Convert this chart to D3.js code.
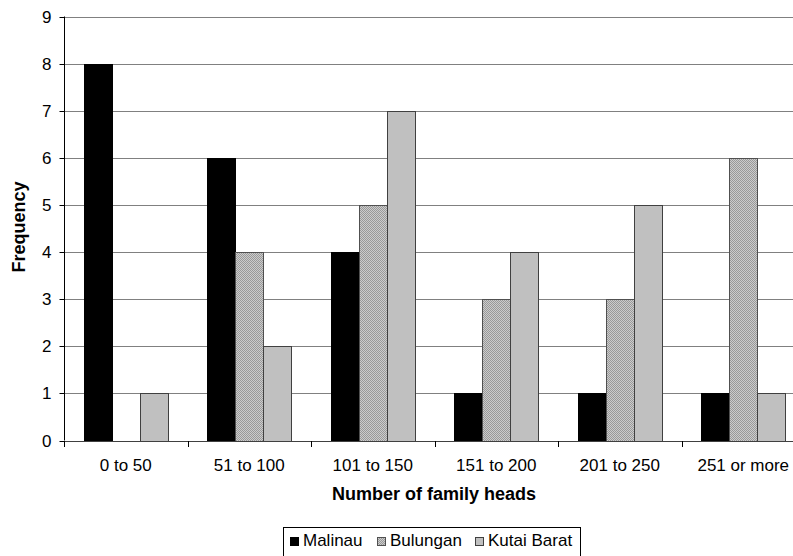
<!DOCTYPE html>
<html>
<head>
<meta charset="utf-8">
<script src="https://cdn.jsdelivr.net/npm/d3@7"></script>
<style>
  html, body { margin: 0; padding: 0; background: #fff; }
  svg { display: block; font-family: "Liberation Sans", Arial, sans-serif; }
</style>
</head>
<body>
<svg id="chart" width="793" height="556"></svg>
<script>
// Frequency of villages by number of family heads, per district
const categories = ["0 to 50", "51 to 100", "101 to 150", "151 to 200", "201 to 250", "251 or more"];
const seriesNames = ["Malinau", "Bulungan", "Kutai Barat"];
const malinau    = [8, 6, 4, 1, 1, 1];
const bulungan   = [0, 4, 5, 3, 3, 6];
const kutaiBarat = [1, 2, 7, 4, 5, 1];
const yTicks = [0, 1, 2, 3, 4, 5, 6, 7, 8, 9];

const seriesValues = [malinau, bulungan, kutaiBarat];

const svg = d3.select("#chart");
const defs = svg.append("defs");

// fine dotted fill for the second series
const pat = defs.append("pattern")
  .attr("id", "dots")
  .attr("patternUnits", "userSpaceOnUse")
  .attr("width", 2).attr("height", 2)
  .attr("shape-rendering", "crispEdges");
pat.append("rect").attr("width", 2).attr("height", 2).attr("fill", "#cccccc");
pat.append("rect").attr("width", 1).attr("height", 1).attr("fill", "#999999");
pat.append("rect").attr("x", 1).attr("y", 1).attr("width", 1).attr("height", 1).attr("fill", "#999999");

const fills = ["#000000", "url(#dots)", "#c0c0c0"];
const strokes = ["#000000", "#505050", "#404040"];

const plotLeft = 64, plotTop = 16.5, plotBottom = 440.5, band = 123.5;
const x = d3.scaleBand().domain(categories).range([plotLeft, plotLeft + band * categories.length]).padding(0);
const xInner = d3.scaleBand().domain(seriesNames).range([19.5, 104]).padding(0);
const y = d3.scaleLinear().domain([0, 9]).range([plotBottom, plotTop]);
const snap = v => Math.round(v) + 0.5;

// horizontal gridlines
svg.append("g")
  .selectAll("line")
  .data(yTicks.filter(d => d > 0))
  .join("line")
  .attr("x1", plotLeft).attr("x2", 793)
  .attr("y1", d => snap(y(d))).attr("y2", d => snap(y(d)))
  .attr("stroke", "#808080").attr("stroke-width", 1);

// bars
const barData = [];
categories.forEach((c, i) => {
  seriesNames.forEach((s, k) => {
    const v = seriesValues[k][i];
    if (v > 0) barData.push({ c, s, k, v });
  });
});

svg.append("g")
  .selectAll("rect")
  .data(barData)
  .join("rect")
  .attr("x", d => snap(x(d.c) + xInner(d.s)))
  .attr("y", d => snap(y(d.v)))
  .attr("width", Math.round(xInner.bandwidth()))
  .attr("height", d => snap(y(0)) - snap(y(d.v)))
  .attr("fill", d => fills[d.k])
  .attr("stroke", d => strokes[d.k])
  .attr("stroke-width", 1);

// y axis
const yAxis = svg.append("g")
  .attr("transform", `translate(${plotLeft + 0.5},0)`)
  .call(d3.axisLeft(y).tickValues(yTicks).tickSize(5).tickPadding(8).tickFormat(d3.format("d")));
yAxis.select(".domain").attr("stroke", "#000").attr("d", `M0,${plotTop}V${plotBottom}`);
yAxis.selectAll(".tick").attr("transform", d => `translate(0,${snap(y(d))})`);
yAxis.selectAll(".tick line").attr("stroke", "#000");
yAxis.selectAll("text").attr("font-size", 17).attr("fill", "#000")
  .attr("font-family", "Liberation Sans, Arial, sans-serif");

// x axis
const xAxis = svg.append("g")
  .attr("transform", `translate(0,${snap(plotBottom)})`)
  .call(d3.axisBottom(x).tickSize(0).tickPadding(17));
xAxis.select(".domain").attr("stroke", "#404040").attr("d", `M${plotLeft},0H793`);
xAxis.selectAll("text").attr("font-size", 17).attr("fill", "#000")
  .attr("font-family", "Liberation Sans, Arial, sans-serif");

// category boundary ticks
svg.append("g")
  .selectAll("line")
  .data(categories.map(c => x(c)).concat([x(categories[categories.length - 1]) + x.bandwidth()]))
  .join("line")
  .attr("x1", d => snap(d)).attr("x2", d => snap(d))
  .attr("y1", Math.round(plotBottom)).attr("y2", Math.round(plotBottom) + 6)
  .attr("stroke", "#000");

// axis titles
svg.append("text")
  .attr("x", 434).attr("y", 500)
  .attr("text-anchor", "middle")
  .attr("font-size", 18).attr("font-weight", "bold")
  .text("Number of family heads");

svg.append("text")
  .attr("transform", "translate(25,227) rotate(-90)")
  .attr("text-anchor", "middle")
  .attr("font-size", 18).attr("font-weight", "bold")
  .text("Frequency");

// legend
const legend = svg.append("g");
legend.append("rect")
  .attr("x", 283.5).attr("y", 527.5)
  .attr("width", 297).attr("height", 32)
  .attr("fill", "#fff").attr("stroke", "#000");

const legendX = [290, 377, 475];
const item = legend.selectAll("g.item")
  .data(seriesNames)
  .join("g")
  .attr("class", "item")
  .attr("transform", (d, i) => `translate(${legendX[i]},0)`);
item.append("rect")
  .attr("x", 0.5).attr("y", 537.5).attr("width", 8).attr("height", 8)
  .attr("fill", (d, i) => fills[i]).attr("stroke", (d, i) => strokes[i]);
item.append("text")
  .attr("x", 13).attr("y", 545.5)
  .attr("font-size", 17)
  .text(d => d);
</script>
</body>
</html>
